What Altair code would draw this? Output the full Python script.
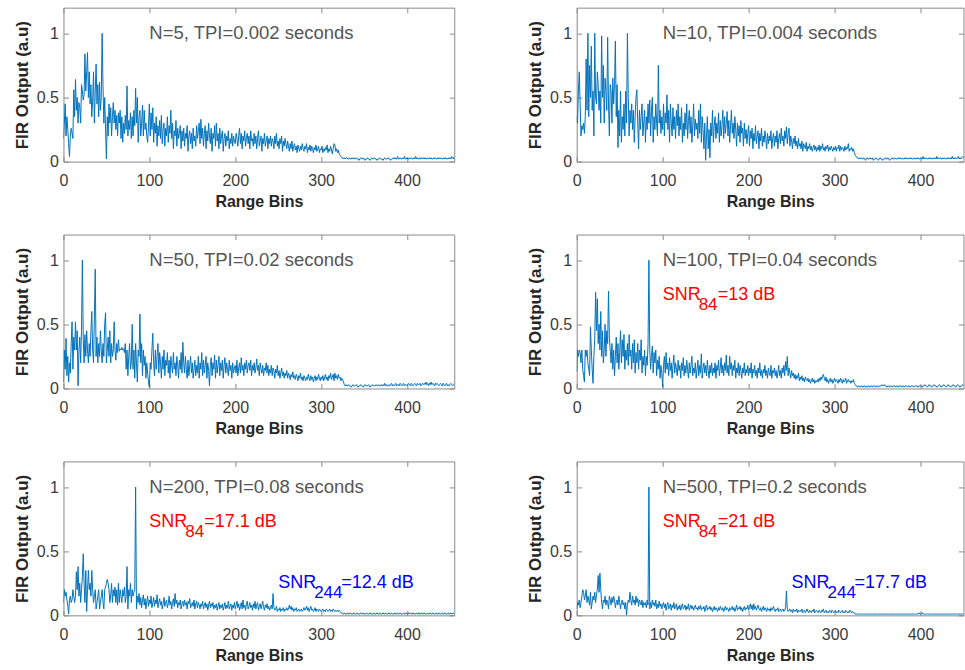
import altair as alt
import pandas as pd

# ---------------- data (FIR output, in hundredths of a.u., one value per range bin) -------------
X_TICKS = [0, 100, 200, 300, 400]
Y_TICKS = [0, 0.5, 1]
X_DOMAIN_LEFT = [0, 455]
X_DOMAIN_RIGHT = [0, 450]   # right column is cut by the window edge in the original
Y_DOMAIN = [0, 1.2]

N5 = [
    18, 30, 45, 20, 35, 25, 14, 4, 20, 26, 22, 18, 56, 35, 64, 40, 50, 30, 46, 42,
    30, 60, 55, 48, 52, 84, 55, 70, 85, 50, 70, 45, 60, 35, 48, 70, 30, 55, 76, 45,
    60, 35, 62, 40, 50, 100, 60, 30, 50, 25, 2, 35, 20, 45, 30, 42, 20, 35, 46, 30,
    40, 25, 36, 20, 38, 30, 40, 18, 35, 15, 30, 22, 36, 25, 59, 20, 32, 25, 38, 18,
    35, 20, 40, 28, 57, 30, 50, 15, 35, 40, 20, 30, 44, 20, 40, 25, 30, 20, 15, 28,
    45, 20, 38, 25, 42, 15, 30, 22, 35, 12, 28, 20, 32, 18, 36, 14, 25, 30, 12, 26,
    20, 35, 15, 28, 22, 40, 18, 30, 10, 24, 20, 32, 12, 26, 18, 22, 28, 10, 24, 16,
    26, 12, 22, 18, 28, 8, 20, 24, 14, 22, 10, 26, 16, 20, 12, 28, 18, 24, 30, 14,
    33, 18, 26, 12, 22, 28, 10, 24, 16, 30, 20, 14, 26, 8, 22, 18, 28, 12, 30, 16,
    22, 10, 26, 14, 20, 24, 8, 18, 22, 12, 20, 16, 24, 10, 18, 14, 22, 12, 20, 16,
    14, 22, 18, 12, 20, 26, 14, 22, 10, 20, 16, 24, 12, 18, 22, 14, 20, 10, 24, 16,
    18, 12, 22, 14, 20, 10, 18, 24, 12, 16, 20, 8, 18, 14, 22, 12, 16, 20, 10, 18,
    14, 20, 12, 18, 16, 10, 20, 14, 22, 12, 16, 10, 18, 14, 20, 8, 16, 12, 18, 14,
    10, 16, 12, 8, 14, 10, 16, 8, 12, 14, 9, 12, 7, 13, 10, 8, 12, 9, 14, 10,
    8, 12, 10, 14, 7, 11, 9, 13, 8, 12, 10, 7, 11, 9, 13, 8, 10, 12, 7, 10,
    9, 12, 7, 10, 8, 11, 9, 13, 7, 10, 8, 12, 9, 6, 10, 14, 13, 8, 10, 7,
    9, 6, 5, 4, 3, 3, 2, 3, 2, 3, 3, 2, 2, 3, 2, 2, 3, 2, 3, 2,
    2, 3, 2, 2, 1, 2, 3, 2, 2, 3, 2, 1, 2, 2, 3, 2, 2, 1, 2, 3,
    2, 2, 3, 2, 2, 1, 2, 2, 3, 2, 2, 2, 1, 2, 3, 2, 2, 2, 3, 2,
    2, 1, 2, 2, 3, 2, 3, 2, 2, 4, 2, 2, 3, 2, 2, 3, 2, 4, 2, 2,
    3, 2, 2, 3, 2, 3, 2, 2, 3, 2, 4, 2, 3, 2, 2, 3, 2, 3, 2, 3,
    2, 3, 2, 2, 3, 2, 3, 2, 3, 2, 2, 3, 2, 3, 2, 2, 3, 2, 3, 2,
    3, 2, 2, 3, 2, 3, 2, 2, 3, 2, 3, 2, 4, 3, 2, 4,
]

N10 = [
    35, 30, 55, 70, 45, 20, 28, 25, 30, 22, 35, 80, 40, 100, 35, 75, 50, 90, 40, 55,
    20, 100, 50, 45, 70, 60, 40, 55, 30, 98, 50, 75, 30, 65, 55, 40, 97, 45, 20, 60,
    55, 30, 65, 45, 60, 94, 35, 60, 11, 40, 20, 55, 15, 35, 25, 45, 20, 55, 30, 100,
    50, 20, 40, 30, 45, 25, 40, 15, 35, 50, 56, 30, 10, 40, 25, 35, 45, 20, 30, 40,
    15, 35, 25, 45, 30, 48, 20, 40, 50, 15, 35, 25, 45, 30, 20, 75, 30, 40, 22, 35,
    25, 45, 20, 38, 30, 52, 25, 40, 15, 45, 30, 20, 42, 25, 35, 18, 40, 28, 45, 20,
    35, 25, 42, 15, 30, 20, 38, 25, 45, 18, 32, 40, 22, 35, 15, 28, 45, 20, 33, 25,
    30, 18, 40, 22, 45, 15, 35, 25, 10, 30, 1, 20, 35, 10, 25, 3, 30, 20, 40, 15,
    28, 35, 18, 30, 22, 38, 15, 32, 20, 28, 40, 18, 35, 22, 30, 39, 20, 32, 15, 28,
    40, 22, 30, 18, 35, 25, 12, 30, 20, 28, 15, 32, 22, 26, 12, 30, 18, 25, 14, 22,
    28, 12, 24, 18, 26, 10, 22, 16, 28, 14, 20, 24, 10, 22, 16, 26, 12, 20, 15, 24,
    18, 10, 22, 14, 20, 16, 24, 10, 18, 22, 12, 20, 15, 24, 10, 18, 22, 14, 26, 16,
    20, 12, 24, 18, 27, 14, 22, 26, 12, 20, 16, 10, 18, 14, 20, 12, 16, 10, 18, 12,
    14, 10, 16, 8, 14, 12, 10, 15, 8, 12, 10, 14, 9, 12, 8, 11, 13, 9, 12, 8,
    11, 9, 13, 8, 12, 10, 14, 9, 11, 8, 12, 10, 13, 8, 11, 9, 12, 10, 8, 11,
    9, 12, 8, 11, 10, 13, 8, 12, 9, 11, 10, 8, 12, 9, 11, 10, 14, 8, 10, 9,
    11, 8, 10, 7, 5, 4, 3, 3, 2, 3, 2, 3, 2, 2, 3, 2, 1, 2, 3, 2,
    2, 3, 2, 2, 3, 1, 2, 2, 3, 2, 2, 1, 2, 3, 2, 2, 1, 2, 2, 3,
    2, 2, 3, 2, 1, 2, 2, 3, 2, 2, 3, 2, 2, 2, 3, 2, 3, 2, 2, 3,
    2, 2, 3, 2, 3, 2, 2, 3, 2, 3, 2, 2, 3, 2, 2, 3, 2, 3, 2, 2,
    3, 2, 2, 4, 2, 3, 2, 3, 2, 2, 3, 2, 3, 2, 2, 3, 2, 3, 2, 4,
    2, 3, 2, 3, 2, 2, 3, 2, 3, 2, 2, 3, 2, 3, 2, 3, 2, 4, 2, 3,
    2, 3, 2, 3, 4, 2, 3, 2, 3, 4, 3, 2, 4, 3, 5, 4,
]

N50 = [
    5, 30, 15, 39, 10, 25, 5, 20, 12, 35, 52, 15, 40, 30, 52, 30, 45, 2, 30, 40,
    20, 45, 100, 40, 20, 42, 25, 45, 30, 20, 35, 25, 45, 60, 30, 20, 55, 93, 25, 40,
    20, 35, 25, 45, 30, 20, 35, 25, 50, 59, 20, 30, 40, 25, 45, 20, 35, 25, 30, 52,
    30, 22, 35, 28, 38, 29, 31, 30, 32, 30, 31, 28, 35, 15, 30, 10, 25, 35, 15, 20,
    50, 15, 30, 8, 35, 20, 5, 30, 25, 58, 20, 35, 10, 30, 18, 25, 8, 20, 12, 5,
    1, 20, 15, 30, 43, 20, 10, 30, 15, 25, 35, 12, 28, 20, 8, 25, 15, 30, 10, 22,
    18, 28, 12, 22, 8, 25, 18, 12, 28, 15, 20, 10, 25, 18, 8, 22, 15, 28, 12, 36,
    20, 12, 25, 15, 8, 22, 10, 18, 25, 12, 20, 8, 15, 22, 10, 18, 12, 25, 8, 20,
    15, 28, 10, 22, 12, 18, 25, 8, 20, 14, 2, 18, 24, 10, 20, 15, 26, 8, 22, 12,
    18, 25, 10, 20, 14, 22, 8, 18, 24, 12, 20, 15, 10, 22, 14, 18, 8, 20, 12, 16,
    18, 12, 22, 10, 16, 20, 12, 24, 14, 18, 10, 20, 15, 22, 12, 18, 20, 14, 22, 10,
    18, 14, 20, 12, 16, 23, 14, 18, 10, 20, 15, 12, 18, 10, 16, 14, 20, 12, 18, 10,
    15, 12, 18, 10, 16, 14, 8, 15, 12, 18, 10, 14, 8, 12, 16, 10, 13, 8, 12, 10,
    14, 8, 12, 10, 7, 11, 9, 13, 8, 10, 7, 11, 9, 6, 10, 8, 12, 7, 9, 6,
    10, 8, 6, 9, 7, 11, 8, 6, 10, 7, 9, 5, 8, 10, 6, 9, 7, 11, 8, 6,
    9, 7, 10, 6, 8, 11, 7, 9, 6, 10, 8, 12, 7, 9, 11, 6, 12, 8, 10, 7,
    11, 8, 9, 6, 8, 7, 5, 3, 2, 3, 2, 2, 3, 2, 2, 1, 2, 3, 2, 2,
    2, 3, 2, 1, 2, 2, 3, 2, 2, 1, 2, 3, 2, 2, 2, 3, 2, 1, 2, 2,
    3, 2, 2, 2, 3, 2, 2, 3, 2, 2, 3, 2, 3, 2, 4, 2, 3, 2, 2, 3,
    2, 3, 4, 2, 3, 2, 3, 4, 2, 3, 3, 2, 4, 3, 2, 3, 4, 2, 3, 3,
    2, 3, 4, 3, 2, 4, 3, 2, 3, 4, 3, 2, 4, 3, 3, 4, 2, 3, 4, 3,
    4, 3, 5, 3, 4, 2, 4, 3, 5, 3, 4, 3, 2, 4, 3, 4, 3, 2, 3, 4,
    3, 2, 4, 3, 2, 3, 4, 2, 3, 2, 3, 4, 3, 2, 3, 4,
]

N100 = [
    13, 30, 25, 30, 28, 20, 30, 15, 10, 5, 30, 25, 30, 20, 15, 10, 48, 30, 15, 4,
    25, 40, 75, 45, 70, 35, 50, 30, 60, 25, 45, 20, 30, 50, 25, 45, 35, 76, 40, 30,
    20, 35, 15, 30, 10, 25, 40, 20, 35, 15, 28, 45, 20, 38, 25, 42, 15, 30, 22, 35,
    18, 42, 25, 30, 15, 35, 20, 38, 12, 28, 20, 35, 15, 30, 22, 38, 12, 25, 18, 30,
    10, 25, 18, 35, 100, 30, 15, 25, 33, 12, 28, 20, 30, 10, 22, 15, 25, 8, 18, 12,
    1, 18, 25, 12, 28, 15, 20, 10, 24, 14, 20, 8, 18, 26, 12, 20, 15, 10, 22, 14,
    18, 8, 20, 14, 24, 10, 18, 12, 22, 15, 8, 20, 12, 18, 25, 10, 16, 12, 20, 8,
    15, 22, 10, 18, 12, 27, 8, 16, 20, 12, 18, 10, 22, 14, 8, 18, 12, 20, 10, 16,
    12, 20, 8, 18, 14, 22, 10, 16, 24, 12, 18, 10, 20, 14, 26, 12, 18, 10, 25, 15,
    20, 10, 18, 14, 22, 8, 16, 12, 20, 10, 18, 14, 8, 16, 12, 20, 10, 15, 12, 18,
    10, 16, 12, 20, 8, 15, 12, 18, 10, 14, 8, 16, 12, 20, 10, 14, 8, 15, 12, 18,
    10, 14, 8, 16, 12, 10, 18, 8, 14, 12, 16, 10, 14, 8, 12, 18, 10, 14, 8, 16,
    12, 18, 10, 21, 14, 25, 10, 16, 12, 8, 14, 10, 12, 8, 11, 7, 10, 8, 12, 6,
    9, 7, 10, 6, 8, 5, 9, 7, 6, 8, 5, 7, 4, 6, 8, 5, 7, 4, 6, 5,
    7, 5, 8, 6, 9, 7, 10, 11, 8, 6, 9, 5, 7, 4, 6, 8, 5, 7, 4, 6,
    8, 5, 7, 6, 4, 7, 5, 8, 6, 4, 7, 5, 6, 8, 4, 6, 7, 5, 6, 4,
    6, 5, 7, 4, 3, 2, 2, 1, 2, 2, 1, 2, 2, 1, 2, 2, 1, 2, 1, 2,
    2, 1, 2, 2, 1, 2, 2, 2, 1, 2, 2, 1, 2, 2, 2, 3, 2, 2, 3, 2,
    2, 1, 2, 2, 1, 2, 2, 1, 2, 2, 2, 1, 2, 2, 1, 2, 2, 2, 1, 2,
    2, 1, 2, 2, 2, 1, 2, 2, 1, 2, 2, 2, 1, 2, 2, 2, 2, 1, 2, 2,
    2, 2, 1, 2, 2, 3, 2, 2, 1, 2, 3, 2, 2, 1, 2, 2, 3, 2, 2, 1,
    2, 2, 3, 2, 1, 2, 2, 3, 2, 2, 1, 2, 3, 2, 2, 1, 2, 2, 3, 2,
    2, 1, 2, 3, 2, 2, 1, 2, 2, 3, 2, 2, 1, 2, 2, 2,
]

N200 = [
    10, 20, 15, 18, 12, 8, 1, 12, 15, 10, 12, 20, 15, 10, 15, 34, 20, 38, 15, 25,
    10, 20, 30, 48, 25, 10, 35, 3, 20, 35, 20, 25, 15, 35, 20, 10, 15, 20, 5, 10,
    15, 20, 5, 10, 15, 20, 10, 5, 20, 22, 25, 28, 25, 20, 10, 15, 25, 10, 20, 15,
    22, 10, 20, 8, 25, 10, 20, 15, 10, 20, 15, 22, 10, 15, 38, 5, 20, 15, 25, 10,
    20, 15, 18, 20, 100, 5, 15, 10, 17, 8, 14, 6, 12, 16, 8, 13, 5, 11, 15, 7,
    12, 9, 15, 6, 10, 14, 7, 12, 9, 16, 6, 10, 13, 8, 11, 5, 9, 14, 7, 10,
    12, 6, 9, 15, 8, 11, 5, 10, 13, 7, 17, 9, 12, 6, 10, 8, 12, 5, 9, 11,
    7, 12, 8, 10, 5, 11, 9, 13, 6, 8, 10, 7, 12, 5, 9, 11, 6, 10, 8, 5,
    9, 7, 11, 5, 8, 10, 6, 9, 4, 8, 11, 6, 9, 7, 10, 5, 8, 6, 9, 4,
    7, 10, 5, 8, 6, 9, 4, 7, 10, 5, 8, 6, 11, 5, 7, 9, 4, 8, 6, 10,
    5, 8, 11, 6, 9, 4, 7, 10, 5, 12, 6, 8, 4, 9, 11, 5, 7, 10, 6, 8,
    4, 9, 6, 11, 5, 8, 10, 4, 7, 9, 5, 8, 11, 6, 4, 8, 6, 9, 5, 7,
    4, 6, 8, 5, 17, 6, 4, 5, 7, 3, 5, 4, 6, 3, 5, 4, 6, 3, 5, 4,
    6, 4, 5, 8, 5, 7, 4, 6, 3, 5, 4, 6, 3, 4, 5, 3, 4, 5, 3, 4,
    6, 4, 5, 7, 4, 6, 3, 5, 7, 4, 5, 3, 4, 6, 3, 5, 4, 3, 5, 4,
    3, 4, 5, 3, 4, 3, 5, 4, 3, 4, 5, 3, 4, 3, 5, 4, 3, 4, 3, 4,
    3, 4, 3, 2, 2, 1, 1, 2, 1, 1, 1, 2, 1, 1, 2, 1, 1, 1, 2, 1,
    1, 1, 2, 1, 1, 1, 2, 1, 1, 2, 1, 1, 1, 2, 1, 1, 1, 2, 1, 1,
    1, 2, 1, 1, 1, 2, 1, 1, 2, 1, 1, 1, 2, 1, 1, 2, 1, 1, 1, 2,
    1, 1, 2, 1, 1, 1, 2, 1, 1, 2, 1, 1, 2, 1, 1, 1, 2, 1, 1, 2,
    1, 1, 2, 1, 2, 1, 1, 2, 1, 1, 1, 2, 1, 1, 2, 1, 1, 2, 1, 1,
    2, 1, 1, 1, 2, 1, 1, 2, 1, 1, 2, 1, 1, 1, 2, 1, 1, 2, 1, 1,
    1, 2, 1, 1, 2, 1, 1, 1, 2, 1, 1, 2, 1, 1, 2, 1,
]

N500 = [
    5, 10, 8, 12, 6, 10, 15, 20, 18, 12, 15, 20, 10, 15, 12, 8, 18, 5, 10, 15,
    12, 18, 10, 16, 20, 31, 18, 33, 20, 10, 5, 12, 10, 15, 8, 12, 10, 5, 15, 12,
    8, 14, 10, 15, 12, 6, 10, 12, 8, 15, 10, 5, 10, 12, 8, 10, 5, 10, 0, 8,
    12, 10, 18, 12, 8, 15, 10, 12, 8, 15, 10, 13, 7, 12, 10, 8, 12, 6, 10, 8,
    10, 6, 12, 8, 100, 5, 10, 6, 12, 8, 10, 7, 12, 5, 9, 6, 11, 7, 9, 5,
    8, 10, 6, 9, 4, 8, 10, 5, 7, 9, 4, 8, 6, 10, 5, 7, 9, 4, 7, 5,
    8, 4, 7, 9, 5, 6, 8, 4, 7, 5, 9, 4, 6, 8, 5, 7, 4, 6, 8, 5,
    6, 4, 7, 5, 8, 4, 6, 5, 7, 3, 6, 8, 4, 6, 5, 7, 4, 6, 3, 5,
    7, 4, 6, 5, 3, 6, 4, 7, 5, 4, 6, 3, 5, 7, 4, 6, 5, 3, 6, 4,
    5, 7, 4, 6, 3, 5, 8, 4, 6, 5, 7, 4, 6, 3, 5, 7, 4, 6, 5, 8,
    4, 6, 9, 5, 8, 4, 9, 5, 7, 4, 6, 8, 5, 4, 6, 3, 5, 7, 4, 6,
    5, 3, 6, 4, 5, 3, 6, 4, 5, 7, 4, 3, 5, 4, 6, 3, 4, 5, 3, 4,
    5, 3, 4, 6, 19, 5, 3, 4, 5, 3, 4, 2, 5, 3, 4, 3, 5, 2, 4, 3,
    4, 3, 5, 2, 3, 4, 2, 3, 5, 3, 2, 4, 3, 2, 4, 3, 5, 2, 3, 4,
    3, 2, 4, 3, 2, 4, 3, 5, 2, 3, 4, 2, 3, 2, 4, 3, 2, 4, 3, 2,
    3, 4, 2, 3, 2, 4, 3, 2, 3, 4, 2, 3, 2, 4, 3, 2, 3, 2, 4, 3,
    2, 3, 2, 2, 1, 1, 1, 1, 1, 1, 1, 1, 1, 1, 1, 1, 1, 1, 1, 1,
    1, 1, 1, 1, 1, 1, 1, 1, 1, 1, 1, 1, 1, 1, 1, 1, 1, 1, 1, 1,
    1, 1, 1, 1, 1, 1, 1, 1, 1, 1, 1, 1, 1, 1, 1, 1, 1, 1, 1, 1,
    1, 1, 1, 1, 1, 1, 1, 1, 1, 1, 1, 1, 1, 1, 1, 1, 1, 1, 2, 1,
    1, 1, 2, 1, 1, 1, 1, 1, 1, 1, 1, 1, 1, 1, 1, 1, 1, 1, 1, 1,
    1, 1, 1, 1, 1, 1, 1, 1, 1, 1, 1, 1, 1, 1, 1, 1, 1, 1, 1, 1,
    1, 1, 1, 1, 1, 1, 1, 1, 1, 1, 1, 1, 1, 1, 1, 1,
]

SERIES = [N5, N10, N50, N100, N200, N500]
TITLES = [
    "N=5, TPI=0.002 seconds",
    "N=10, TPI=0.004 seconds",
    "N=50, TPI=0.02 seconds",
    "N=100, TPI=0.04 seconds",
    "N=200, TPI=0.08 seconds",
    "N=500, TPI=0.2 seconds",
]
SNR84 = ["", "", "", "=13 dB", "=17.1 dB", "=21 dB"]
SNR244 = ["", "", "", "", "=12.4 dB", "=17.7 dB"]

TITLE_POS = (100, 1.0)
SNR84_POS = (100, 0.725)
SNR244_POS = (250, 0.25)

# ---------------- style ----------------
FONT = "Liberation Sans"
LINE = "#0072BD"
FRAME = "#8a8a8a"
LABEL = "#3a3a3a"
TITLEC = "#262626"
NOTE = "#555555"
RED = "#FF0000"
BLUE = "#0000FF"

YS = alt.Scale(domain=Y_DOMAIN, nice=False, zero=False)

PW_LEFT, PW_RIGHT, PH = 391, 387, 154


def text_layer(xs, x, y, s, color, size, dx=0, dy=0):
    d = pd.DataFrame({"bin": [x], "v": [y], "t": [s]})
    return alt.Chart(d).mark_text(
        align="left", baseline="middle", font=FONT, fontSize=size,
        color=color, dx=dx, dy=dy
    ).encode(
        x=alt.X("bin:Q", scale=xs, axis=None),
        y=alt.Y("v:Q", scale=YS, axis=None),
        text="t:N",
    )


def panel(i):
    right = (i % 2 == 1)
    xs = alt.Scale(domain=X_DOMAIN_RIGHT if right else X_DOMAIN_LEFT, nice=False, zero=False)
    vals = SERIES[i]
    df = pd.DataFrame({"bin": list(range(len(vals))), "v": [a / 100 for a in vals]})

    line = alt.Chart(df).mark_line(color=LINE, strokeWidth=1, clip=True).encode(
        x=alt.X("bin:Q", scale=xs, axis=alt.Axis(
            orient="bottom", values=X_TICKS, title="Range Bins", domain=False, grid=False,
            tickSize=5, offset=-5, tickColor=FRAME, tickWidth=1,
            labelFont=FONT, labelFontSize=16, labelColor=LABEL, labelPadding=11, labelFlush=False,
            titleFont=FONT, titleFontSize=16, titleFontWeight="bold", titleColor=TITLEC, titlePadding=5)),
        y=alt.Y("v:Q", scale=YS, axis=alt.Axis(
            orient="left", values=Y_TICKS, format="~g", title="FIR Output (a.u)", domain=False, grid=False,
            tickSize=5, offset=-5, tickColor=FRAME, tickWidth=1,
            labelFont=FONT, labelFontSize=16, labelColor=LABEL, labelPadding=5, labelFlush=False,
            titleFont=FONT, titleFontSize=17, titleFontWeight="bold", titleColor=TITLEC, titlePadding=5)),
    )

    tdf = pd.DataFrame({"bin": [TITLE_POS[0]], "v": [TITLE_POS[1]], "t": [TITLES[i]]})
    note = alt.Chart(tdf).mark_text(
        align="left", baseline="middle", font=FONT, fontSize=18.5, color=NOTE
    ).encode(
        x=alt.X("bin:Q", scale=xs, axis=alt.Axis(
            orient="top", values=X_TICKS, labels=False, title=None, domain=False, grid=False,
            tickSize=5, offset=-5, tickColor=FRAME, tickWidth=1)),
        y=alt.Y("v:Q", scale=YS, axis=alt.Axis(
            orient="right", values=Y_TICKS, labels=False, title=None, domain=False, grid=False,
            tickSize=5, offset=-5, tickColor=FRAME, tickWidth=1)),
        text="t:N",
    )

    layers = [line, note]
    if SNR84[i]:
        x, y = SNR84_POS
        layers += [
            text_layer(xs, x, y, "SNR", RED, 18),
            text_layer(xs, x, y, "84", RED, 17, dx=36, dy=10),
            text_layer(xs, x, y, SNR84[i], RED, 18, dx=55),
        ]
    if SNR244[i]:
        x, y = SNR244_POS
        layers += [
            text_layer(xs, x, y, "SNR", BLUE, 18),
            text_layer(xs, x, y, "244", BLUE, 17, dx=36, dy=10),
            text_layer(xs, x, y, SNR244[i], BLUE, 18, dx=63),
        ]
    return alt.layer(*layers).resolve_axis(x="independent", y="independent").properties(
        width=PW_RIGHT if right else PW_LEFT, height=PH)


chart = alt.concat(
    *[panel(i) for i in range(6)],
    columns=2,
    spacing={"row": 73, "column": 122.5},
    bounds="flush",
).properties(
    padding={"left": 12.5, "top": 6.5, "right": 0, "bottom": 0},
    background="white",
).configure_view(stroke=FRAME, strokeWidth=1)

chart.save("out.html", embed_options={"renderer": "svg", "actions": False})
